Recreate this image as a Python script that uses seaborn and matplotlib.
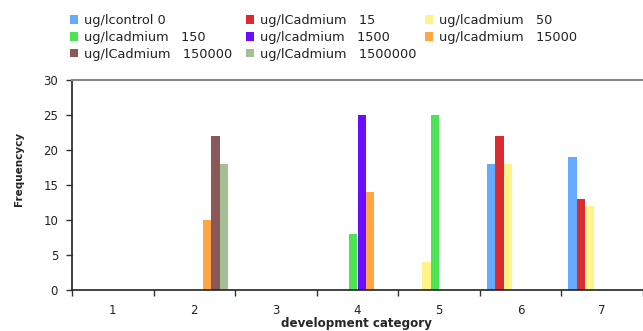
import matplotlib
matplotlib.use("Agg")
import matplotlib.pyplot as plt
from matplotlib.patches import Patch
from matplotlib.ticker import FixedLocator
import seaborn as sns
import pandas as pd

categories = ["1", "2", "3", "4", "5", "6", "7"]

series_names = [
    "ug/lcontrol 0",
    "ug/lCadmium   15",
    "ug/lcadmium   50",
    "ug/lcadmium   150",
    "ug/lcadmium   1500",
    "ug/lcadmium   15000",
    "ug/lCadmium   150000",
    "ug/lCadmium   1500000",
]

control_0 = [0, 0, 0, 0, 0, 18, 19]
cadmium_15 = [0, 0, 0, 0, 0, 22, 13]
cadmium_50 = [0, 0, 0, 0, 4, 18, 12]
cadmium_150 = [0, 0, 0, 8, 25, 0, 0]
cadmium_1500 = [0, 0, 0, 25, 0, 0, 0]
cadmium_15000 = [0, 10, 0, 14, 0, 0, 0]
cadmium_150000 = [0, 22, 0, 0, 0, 0, 0]
cadmium_1500000 = [0, 18, 0, 0, 0, 0, 0]

series_values = [control_0, cadmium_15, cadmium_50, cadmium_150,
                 cadmium_1500, cadmium_15000, cadmium_150000, cadmium_1500000]

colors = ["#66AAFF", "#DD2C30", "#FFF38A", "#4CE355",
          "#6A0DFF", "#FFA545", "#8A5858", "#A3BF93"]

y_ticks = [0, 5, 10, 15, 20, 25, 30]

rows = []
for name, vals in zip(series_names, series_values):
    for cat, v in zip(categories, vals):
        rows.append({"category": cat, "series": name, "count": v})
df = pd.DataFrame(rows)

sns.set_theme(style="white")
plt.rcParams["font.family"] = ["DejaVu Sans"]

W, H = 643, 331
fig = plt.figure(figsize=(W / 100, H / 100), dpi=100)
ax = fig.add_axes([72 / W, 1 - 290 / H, 1 - 72 / W, 210 / H])

sns.barplot(data=df, x="category", y="count", hue="series",
            hue_order=series_names, order=categories,
            palette=colors, width=0.83, gap=0, dodge=True,
            saturation=1, linewidth=0, legend=False, ax=ax)

ax.set_xlim(-0.5, len(categories) - 0.5)
ax.set_ylim(0, 30)
ax.set_yticks(y_ticks)
ax.set_yticklabels([str(t) for t in y_ticks], fontsize=8.5, color="#222222")
ax.xaxis.set_minor_locator(FixedLocator([i - 0.5 for i in range(len(categories) + 1)]))
ax.set_xticks(range(len(categories)))
ax.set_xticklabels(categories, fontsize=8.5, color="#222222")
ax.tick_params(axis="x", which="major", length=0, pad=10)
ax.tick_params(axis="x", which="minor", length=4, width=1, color="#333333",
               direction="out", bottom=True)
ax.tick_params(axis="y", length=4, width=1, color="#333333", direction="out",
               left=True, pad=6)

for side in ["left", "bottom"]:
    ax.spines[side].set_color("#222222")
    ax.spines[side].set_linewidth(1.2)
ax.spines["top"].set_color("#888888")
ax.spines["top"].set_linewidth(1.5)
ax.spines["right"].set_visible(False)
ax.grid(False)

ax.set_xlabel("development category", fontsize=8.6, fontweight="bold")
ax.xaxis.set_label_coords(0.499, (290 - 317) / 210)
ax.set_ylabel("Frequencycy", fontsize=7.5, fontweight="bold")
ax.yaxis.set_label_coords((24 - 72) / 571, (290 - 169) / 210)

# Legend: three columns laid out row by row
col_x = [70, 246, 425]
for c, x in enumerate(col_x):
    idx = list(range(c, len(series_names), 3))
    handles = [Patch(facecolor=colors[i], edgecolor="none") for i in idx]
    labels = [series_names[i] for i in idx]
    leg = fig.legend(handles, labels, loc="upper left",
                     bbox_to_anchor=(x / W, 1 - 14 / H), frameon=False,
                     fontsize=9.3, handlelength=0.62, handleheight=0.62,
                     handletextpad=0.45, labelspacing=0.3,
                     borderpad=0, borderaxespad=0)
    for t in leg.get_texts():
        t.set_color("#222222")

fig.savefig("out.png", dpi=100)
